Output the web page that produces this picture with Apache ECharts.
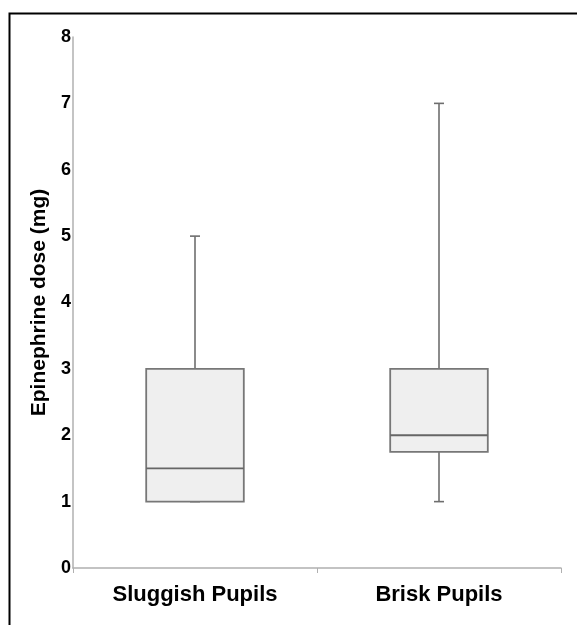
<!DOCTYPE html>
<html><head><meta charset="utf-8">
<script src="https://cdn.jsdelivr.net/npm/echarts@6/dist/echarts.min.js"></script>
<style>html,body{margin:0;padding:0;background:#fff}#c{width:577px;height:625px}</style>
</head><body><div id="c"></div>
<script>
var categories = ['Sluggish Pupils', 'Brisk Pupils'];
var mins = [1, 1];
var q1s = [1, 1.75];
var medians = [1.5, 2];
var q3s = [3, 3];
var maxs = [5, 7];
var yTicks = [0, 1, 2, 3, 4, 5, 6, 7, 8];

var data = categories.map(function (c, i) { return [i, mins[i], q1s[i], medians[i], q3s[i], maxs[i]]; });

var chart = echarts.init(document.getElementById('c'), null, {renderer: 'canvas'});
chart.setOption({
  backgroundColor: '#fff',
  animation: false,
  graphic: [{
    type: 'rect', left: 7, top: 11, shape: {x: 0, y: 0, width: 620, height: 700},
    style: {fill: 'none', stroke: '#000', lineWidth: 2}, z: 100
  }],
  grid: {left: 73, right: 16, top: 37, bottom: 57},
  xAxis: {
    type: 'category', data: categories,
    axisLine: {lineStyle: {color: '#b0b0b0', width: 1.5}},
    axisTick: {show: true, length: 5, lineStyle: {color: '#b0b0b0'}},
    axisLabel: {color: '#000', fontFamily: 'Liberation Sans, Arial', fontWeight: 'bold', fontSize: 22, margin: 16}
  },
  yAxis: {
    type: 'value', min: yTicks[0], max: yTicks[yTicks.length - 1], interval: 1,
    name: 'Epinephrine dose (mg)', nameLocation: 'middle', nameGap: 22, nameRotate: 90,
    nameTextStyle: {color: '#000', fontFamily: 'Liberation Sans, Arial', fontWeight: 'bold', fontSize: 21},
    axisLine: {show: true, lineStyle: {color: '#b0b0b0', width: 1.5}},
    axisTick: {show: false},
    splitLine: {show: false},
    axisLabel: {color: '#000', fontFamily: 'Liberation Sans, Arial', fontWeight: 'bold', fontSize: 18, margin: 2}
  },
  series: [{
    type: 'custom',
    data: data,
    encode: {x: 0, y: [1, 2, 3, 4, 5]},
    renderItem: function (params, api) {
      var idx = api.value(0);
      var pMin = api.coord([idx, api.value(1)]);
      var pQ1 = api.coord([idx, api.value(2)]);
      var pMed = api.coord([idx, api.value(3)]);
      var pQ3 = api.coord([idx, api.value(4)]);
      var pMax = api.coord([idx, api.value(5)]);
      var band = api.size([1, 0])[0];
      var bw = band * 0.4;
      var cx = pQ1[0];
      var cap = 10;
      var ls = {stroke: '#6e6e6e', lineWidth: 1.6};
      return {
        type: 'group',
        children: [
          {type: 'line', shape: {x1: cx, y1: pQ3[1], x2: cx, y2: pMax[1]}, style: ls},
          {type: 'line', shape: {x1: cx - cap / 2, y1: pMax[1], x2: cx + cap / 2, y2: pMax[1]}, style: ls},
          {type: 'line', shape: {x1: cx, y1: pQ1[1], x2: cx, y2: pMin[1]}, style: ls},
          {type: 'line', shape: {x1: cx - cap / 2, y1: pMin[1], x2: cx + cap / 2, y2: pMin[1]}, style: ls},
          {type: 'rect', shape: {x: cx - bw / 2, y: pQ3[1], width: bw, height: pQ1[1] - pQ3[1]},
            style: {fill: '#efefef', stroke: '#777', lineWidth: 1.8}},
          {type: 'line', shape: {x1: cx - bw / 2, y1: pMed[1], x2: cx + bw / 2, y2: pMed[1]}, style: {stroke: '#666', lineWidth: 1.8}}
        ]
      };
    }
  }]
});
</script></body></html>
